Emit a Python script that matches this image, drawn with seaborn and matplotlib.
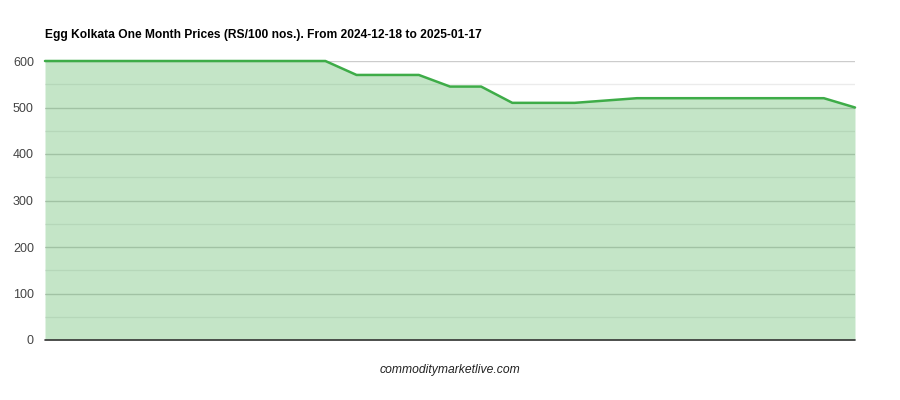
import matplotlib
matplotlib.use("Agg")
import matplotlib.pyplot as plt
import seaborn as sns
import pandas as pd
import numpy as np

# Data
prices = [600, 600, 600, 600, 600, 600, 600, 600, 600, 600,
          570, 570, 570, 545, 545, 510, 510, 510, 515,
          520, 520, 520, 520, 520, 520, 520, 500]
day_index = list(range(len(prices)))
y_ticks = [0, 100, 200, 300, 400, 500, 600]
title = "Egg Kolkata One Month Prices (RS/100 nos.). From 2024-12-18 to 2025-01-17"
source = "commoditymarketlive.com"

df = pd.DataFrame({"idx": day_index, "price": prices})

sns.set_theme(style="white")
plt.rcParams['font.family'] = ['Liberation Sans', 'DejaVu Sans']

fig = plt.figure(figsize=(9, 4), dpi=100)
ax = fig.add_axes([0.05, 0.15, 0.9, 0.6975])

green = "#3eac48"
# gridlines
for v in y_ticks[1:]:
    ax.axhline(v, color="#cccccc", lw=1, zorder=0)
for v in [50, 150, 250, 350, 450, 550]:
    ax.axhline(v, color="#ebebeb", lw=1, zorder=0)

ax.fill_between(df["idx"], df["price"], 0, color=green, alpha=0.3, lw=0, zorder=1)
sns.lineplot(data=df, x="idx", y="price", ax=ax, color=green, lw=1.8, zorder=3)
for l in ax.lines[-1:]:
    l.set_clip_on(False)

base = ax.axhline(0, color="#333333", lw=1.2, zorder=4)
base.set_clip_on(False)

ax.set_xlim(0, len(prices) - 1)
ax.set_ylim(0, 600)
ax.set_yticks(y_ticks)
ax.set_yticklabels([str(v) for v in y_ticks], fontsize=9, color="#444444")
ax.tick_params(axis="y", length=0, pad=8)
ax.set_xticks([])
ax.set_xlabel("")
ax.set_ylabel("")
for s in ax.spines.values():
    s.set_visible(False)

fig.text(45 / 900, 1 - 35 / 400, title, fontsize=8.65, fontweight="bold",
         color="#000000", ha="left", va="center")
fig.text(450 / 900, 1 - 370 / 400, source, fontsize=8.7, style="italic",
         color="#222222", ha="center", va="center")

fig.savefig("out.png", dpi=100)
